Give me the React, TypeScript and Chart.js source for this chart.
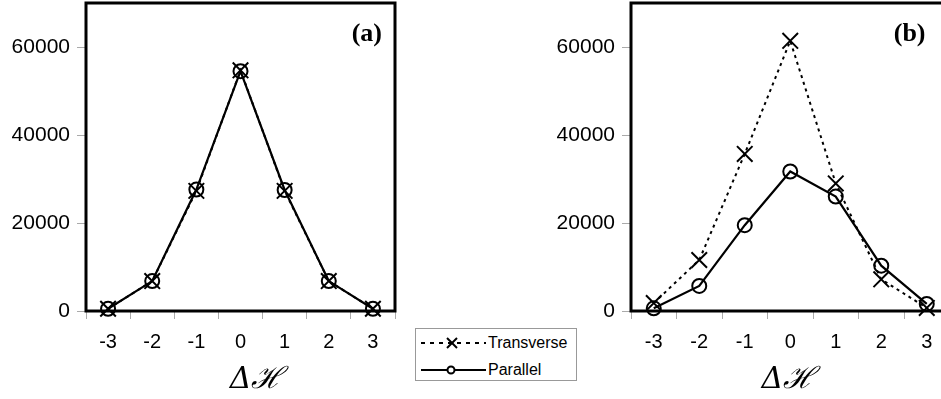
import React, { useEffect, useRef } from "react";
import { Chart, registerables } from "chart.js";

Chart.register(...registerables);

// ---- data ----
const categories = ["-3", "-2", "-1", "0", "1", "2", "3"];
const panelATransverse = [500, 6800, 27300, 54700, 27300, 6800, 500];
const panelAParallel = [500, 6800, 27600, 54500, 27500, 6800, 500];
const panelBTransverse = [1800, 11600, 35700, 61400, 29000, 7200, 700];
const panelBParallel = [600, 5700, 19500, 31700, 26000, 10300, 1600];
const yTickValues = [0, 20000, 40000, 60000];
const yMaxValue = 70000;
const seriesNames = ["Transverse", "Parallel"];
const axisTitle = "Δℋ";

const framePlugin = {
  id: "frame",
  beforeDatasetsDraw(chart: any, _args: any, opts: any) {
    const { ctx, chartArea: a } = chart;
    ctx.save();
    ctx.strokeStyle = "#000";
    ctx.lineWidth = 3;
    ctx.strokeRect(a.left, a.top, a.right - a.left, a.bottom - a.top);
    ctx.fillStyle = "#000";
    if (opts && opts.label) {
      ctx.font = 'bold 26px "Liberation Serif", "Times New Roman", serif';
      ctx.textAlign = "right";
      ctx.textBaseline = "middle";
      ctx.fillText(opts.label, a.right - opts.inset, a.top + 31);
    }
    if (opts && opts.title) {
      ctx.font = 'italic 30px "DejaVu Serif", serif';
      ctx.textAlign = "center";
      ctx.textBaseline = "middle";
      ctx.fillText(opts.title, (a.left + a.right) / 2 + opts.titleDx, 380);
    }
    ctx.restore();
  },
};

type PanelProps = {
  left: number;
  width: number;
  padRight: number;
  transverse: number[];
  parallel: number[];
  label: string;
  inset: number;
  titleDx: number;
};

function Panel({ left, width, padRight, transverse, parallel, label, inset, titleDx }: PanelProps) {
  const ref = useRef<HTMLCanvasElement | null>(null);
  useEffect(() => {
    if (!ref.current) return;
    const tickFont = { family: '"Liberation Sans", Arial, sans-serif', size: 20 };
    const chart = new Chart(ref.current, {
      type: "line",
      data: {
        labels: categories,
        datasets: [
          {
            label: seriesNames[0],
            data: transverse,
            borderColor: "#000",
            backgroundColor: "transparent",
            borderWidth: 2,
            borderDash: [3, 4],
            pointStyle: "crossRot",
            pointRadius: 11,
            pointBorderWidth: 2,
            pointBorderColor: "#000",
            tension: 0,
            clip: false,
          } as any,
          {
            label: seriesNames[1],
            data: parallel,
            borderColor: "#000",
            backgroundColor: "transparent",
            borderWidth: 2.2,
            pointStyle: "circle",
            pointRadius: 7,
            pointBorderWidth: 2,
            pointBorderColor: "#000",
            pointBackgroundColor: "transparent",
            tension: 0,
            clip: false,
          } as any,
        ],
      },
      options: {
        animation: false,
        responsive: false,
        events: [],
        layout: { autoPadding: false, padding: { left: 0, right: padRight, top: 3, bottom: 0 } },
        plugins: {
          legend: { display: false },
          tooltip: { enabled: false },
          frame: { label, inset, title: axisTitle, titleDx },
        } as any,
        scales: {
          x: {
            type: "category",
            offset: true,
            border: { display: false },
            grid: {
              offset: true,
              drawOnChartArea: false,
              drawTicks: true,
              tickLength: 8,
              tickColor: "#aaa",
              tickWidth: 1,
            },
            ticks: { color: "#000", font: tickFont, padding: 11, maxRotation: 0 },
            afterFit: (s: any) => {
              s.height = 88;
              s.paddingLeft = 0;
              s.paddingRight = 0;
            },
          },
          y: {
            type: "linear",
            min: 0,
            max: yMaxValue,
            border: { display: false },
            grid: {
              drawOnChartArea: false,
              drawTicks: true,
              tickLength: 9,
              tickColor: "#aaa",
              tickWidth: 1,
            },
            ticks: {
              color: "#000",
              font: { family: '"Liberation Sans", Arial, sans-serif', size: 21 },
              padding: 7,
              stepSize: 20000,
              callback: (v: any) => String(v),
            },
            afterBuildTicks: (s: any) => {
              s.ticks = yTickValues.map((v) => ({ value: v }));
            },
            afterFit: (s: any) => {
              s.width = 86;
              s.paddingTop = 0;
              s.paddingBottom = 0;
            },
          },
        },
      } as any,
      plugins: [framePlugin],
    });
    return () => chart.destroy();
  }, []);
  return (
    <canvas
      ref={ref}
      width={width}
      height={399}
      style={{ position: "absolute", left, top: 0, width, height: 399 }}
    />
  );
}

function Legend() {
  const rowText: React.CSSProperties = {
    position: "absolute",
    left: 72,
    fontFamily: '"Liberation Sans", Arial, sans-serif',
    fontSize: 16,
    lineHeight: "16px",
    color: "#000",
  };
  return (
    <div
      style={{
        position: "absolute",
        left: 415,
        top: 328,
        width: 162,
        height: 53,
        border: "1px solid #999",
        boxSizing: "border-box",
        background: "#fff",
      }}
    >
      <svg width={72} height={53} style={{ position: "absolute", left: 0, top: 0 }}>
        <line x1={5} y1={14} x2={70} y2={14} stroke="#000" strokeWidth={2} strokeDasharray="4 5" />
        <line x1={31} y1={9} x2={41} y2={19} stroke="#000" strokeWidth={2} />
        <line x1={41} y1={9} x2={31} y2={19} stroke="#000" strokeWidth={2} />
        <line x1={5} y1={41} x2={70} y2={41} stroke="#000" strokeWidth={2} />
        <circle cx={35} cy={41} r={3.5} stroke="#000" strokeWidth={2} fill="#fff" />
      </svg>
      <div style={{ ...rowText, top: 6 }}>{seriesNames[0]}</div>
      <div style={{ ...rowText, top: 33 }}>{seriesNames[1]}</div>
    </div>
  );
}

export default function App() {
  return (
    <div
      style={{
        position: "fixed",
        left: 0,
        top: 0,
        width: 941,
        height: 399,
        overflow: "hidden",
        background: "#fff",
      }}
    >
      <Panel
        left={0}
        width={400}
        padRight={5}
        transverse={panelATransverse}
        parallel={panelAParallel}
        label="(a)"
        inset={13}
        titleDx={16}
      />
      <Panel
        left={545}
        width={410}
        padRight={5.5}
        transverse={panelBTransverse}
        parallel={panelBParallel}
        label="(b)"
        inset={24}
        titleDx={-2}
      />
      <Legend />
    </div>
  );
}
